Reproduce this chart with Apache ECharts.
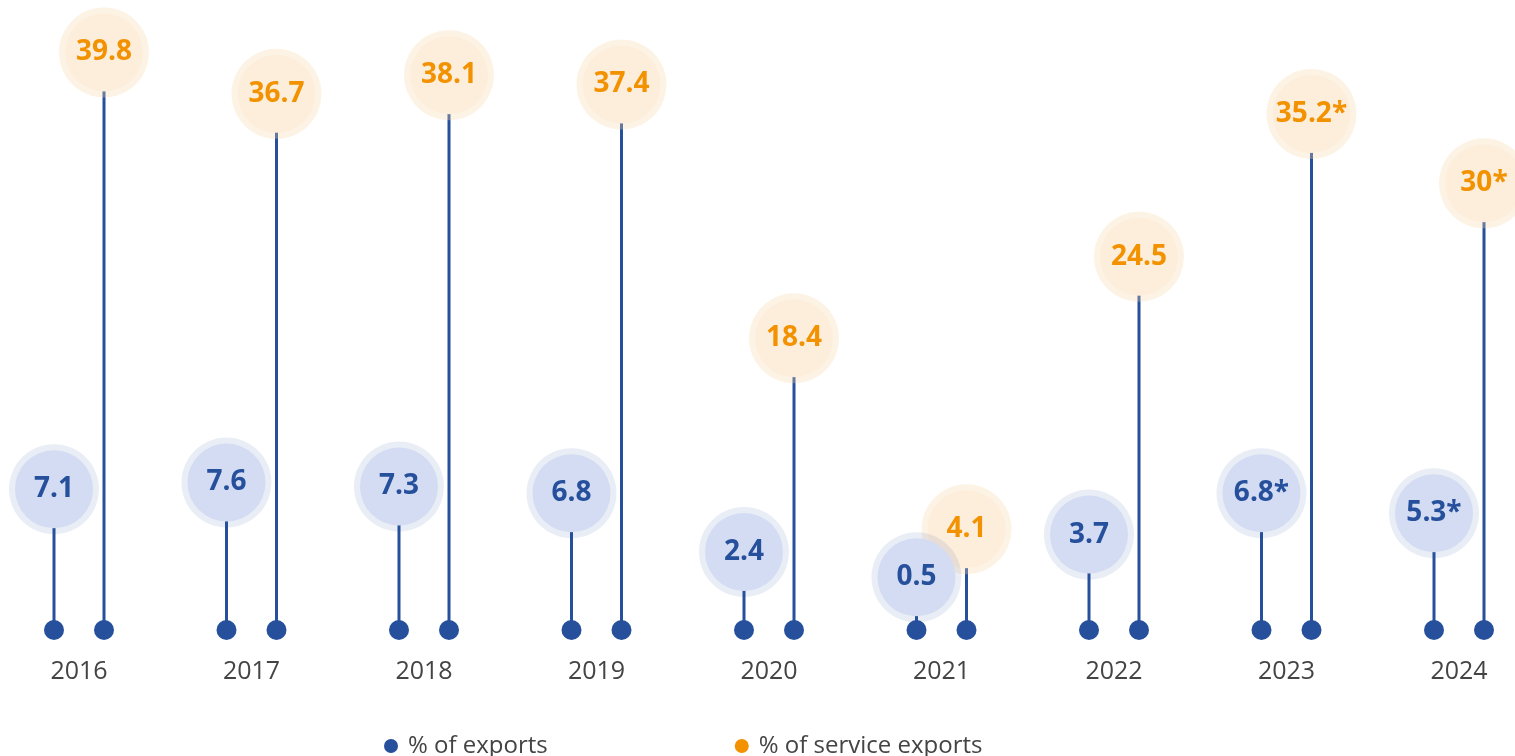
<!DOCTYPE html>
<html>
<head>
<meta charset="utf-8">
<script src="https://cdn.jsdelivr.net/npm/echarts@6/dist/echarts.min.js"></script>
<style>
  html, body { margin: 0; padding: 0; background: #fff; }
  #chart { width: 1515px; height: 756px; }
</style>
</head>
<body>
<div id="chart"></div>
<script>
  var years = ['2016', '2017', '2018', '2019', '2020', '2021', '2022', '2023', '2024']
  var exportValues = [7.1, 7.6, 7.3, 6.8, 2.4, 0.5, 3.7, 6.8, 5.3]
  var exportLabels = ['7.1', '7.6', '7.3', '6.8', '2.4', '0.5', '3.7', '6.8*', '5.3*']
  var serviceValues = [39.8, 36.7, 38.1, 37.4, 18.4, 4.1, 24.5, 35.2, 30]
  var serviceLabels = ['39.8', '36.7', '38.1', '37.4', '18.4', '4.1', '24.5', '35.2*', '30*']

  var stemColor = '#26509c'
  var font = '"Open Sans", "Noto Sans", sans-serif'

  // one lollipop: dot on the baseline, stem, bubble sitting on top of the value
  function lollipop (dx, inner, halo, textColor, labels) {
    return function (params, api) {
      var base = api.coord([api.value(0), 0])
      var top = api.coord([api.value(0), api.value(1)])
      var x = base[0] + dx
      var cy = top[1] - 46
      return {
        type: 'group',
        children: [
          { type: 'line', shape: { x1: x, y1: base[1], x2: x, y2: cy }, style: { stroke: stemColor, lineWidth: 3 } },
          { type: 'circle', shape: { cx: x, cy: base[1], r: 10 }, style: { fill: stemColor } },
          { type: 'circle', shape: { cx: x, cy: cy, r: 45 }, style: { fill: halo } },
          { type: 'circle', shape: { cx: x, cy: cy, r: 39 }, style: { fill: inner } },
          {
            type: 'text',
            style: {
              text: labels[params.dataIndex],
              x: x,
              y: cy,
              align: 'center',
              verticalAlign: 'middle',
              fill: textColor,
              fontSize: 28,
              fontWeight: 'bold',
              fontFamily: font
            }
          }
        ]
      }
    }
  }

  var chart = echarts.init(document.getElementById('chart'))
  chart.setOption({
    backgroundColor: '#fff',
    animation: false,
    grid: { left: 79, right: 56, top: 29, bottom: 126 },
    legend: {
      data: ['% of exports', '% of service exports'],
      left: 384,
      top: 734,
      padding: 0,
      icon: 'circle',
      itemWidth: 14,
      itemHeight: 14,
      itemGap: 187,
      textStyle: { fontSize: 24, color: '#444', fontFamily: font, padding: [0, 0, 0, 5] }
    },
    xAxis: {
      type: 'category',
      data: years,
      boundaryGap: false,
      axisLine: { show: false },
      axisTick: { show: false },
      axisLabel: { fontSize: 25, color: '#444', fontFamily: font, margin: 29 }
    },
    yAxis: {
      type: 'value',
      min: 0,
      max: 45,
      show: false,
      splitLine: { show: false }
    },
    series: [
      {
        name: '% of service exports',
        type: 'custom',
        color: '#f39200',
        clip: false,
        renderItem: lollipop(25, '#fdeedc', 'rgba(250, 215, 170, 0.3)', '#f39200', serviceLabels),
        data: years.map(function (y, i) { return [i, serviceValues[i]] })
      },
      {
        name: '% of exports',
        type: 'custom',
        color: '#26509c',
        clip: false,
        renderItem: lollipop(-25, '#d3dcf2', 'rgba(38, 80, 156, 0.1)', '#26509c', exportLabels),
        data: years.map(function (y, i) { return [i, exportValues[i]] })
      }
    ]
  })
</script>
</body>
</html>
